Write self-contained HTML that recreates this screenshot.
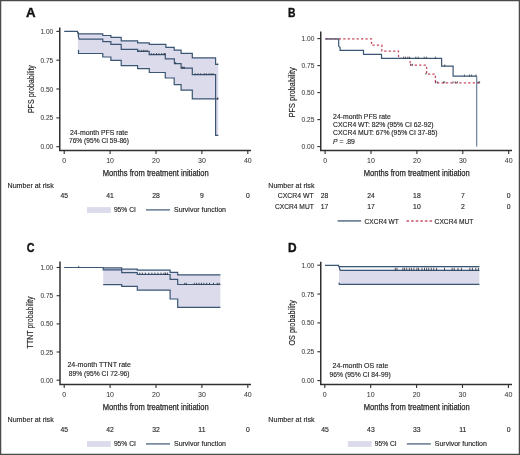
<!DOCTYPE html><html><head><meta charset="utf-8"><style>html,body{margin:0;padding:0;background:#fff;}svg{display:block;will-change:transform;filter:blur(0.3px);}</style></head><body>
<svg width="520" height="455" viewBox="0 0 520 455" font-family='"Liberation Sans", sans-serif'>
<rect x="0" y="0" width="520" height="455" fill="#fff"/>
<rect x="0.6" y="0.6" width="518.8" height="453.8" fill="none" stroke="#4a4a4a" stroke-width="1.3"/>
<text x="26.1" y="17.4" font-size="12.2" font-weight="bold" fill="#111" stroke="#111" stroke-width="0.35" textLength="9.6" lengthAdjust="spacingAndGlyphs">A</text>
<text x="288.0" y="17.4" font-size="12.2" font-weight="bold" fill="#111" stroke="#111" stroke-width="0.35" textLength="7.5" lengthAdjust="spacingAndGlyphs">B</text>
<text x="26.7" y="251.6" font-size="12.4" font-weight="bold" fill="#111" stroke="#111" stroke-width="0.35" textLength="7.8" lengthAdjust="spacingAndGlyphs">C</text>
<text x="288.0" y="251.6" font-size="12.2" font-weight="bold" fill="#111" stroke="#111" stroke-width="0.35" textLength="8.6" lengthAdjust="spacingAndGlyphs">D</text>
<path d="M59.75,27.6 V151.35 M59.0,150.6 H251" stroke="#303030" stroke-width="1.5" fill="none"/>
<path d="M56.35,31.4 H59.75" stroke="#303030" stroke-width="1.1"/>
<path d="M56.35,60.2 H59.75" stroke="#303030" stroke-width="1.1"/>
<path d="M56.35,89.0 H59.75" stroke="#303030" stroke-width="1.1"/>
<path d="M56.35,117.9 H59.75" stroke="#303030" stroke-width="1.1"/>
<path d="M56.35,146.7 H59.75" stroke="#303030" stroke-width="1.1"/>
<path d="M64.20,150.6 V154.0" stroke="#303030" stroke-width="1.1"/>
<path d="M110.10,150.6 V154.0" stroke="#303030" stroke-width="1.1"/>
<path d="M156.00,150.6 V154.0" stroke="#303030" stroke-width="1.1"/>
<path d="M201.90,150.6 V154.0" stroke="#303030" stroke-width="1.1"/>
<path d="M247.80,150.6 V154.0" stroke="#303030" stroke-width="1.1"/>
<text x="53.3" y="33.9" font-size="7.0" text-anchor="end" fill="#3a3a3a" font-weight="normal" stroke="#3a3a3a" stroke-width="0.05" textLength="12.9" lengthAdjust="spacingAndGlyphs">1.00</text>
<text x="53.3" y="62.7" font-size="7.0" text-anchor="end" fill="#3a3a3a" font-weight="normal" stroke="#3a3a3a" stroke-width="0.05" textLength="12.9" lengthAdjust="spacingAndGlyphs">0.75</text>
<text x="53.3" y="91.5" font-size="7.0" text-anchor="end" fill="#3a3a3a" font-weight="normal" stroke="#3a3a3a" stroke-width="0.05" textLength="12.9" lengthAdjust="spacingAndGlyphs">0.50</text>
<text x="53.3" y="120.4" font-size="7.0" text-anchor="end" fill="#3a3a3a" font-weight="normal" stroke="#3a3a3a" stroke-width="0.05" textLength="12.9" lengthAdjust="spacingAndGlyphs">0.25</text>
<text x="53.3" y="149.2" font-size="7.0" text-anchor="end" fill="#3a3a3a" font-weight="normal" stroke="#3a3a3a" stroke-width="0.05" textLength="12.9" lengthAdjust="spacingAndGlyphs">0.00</text>
<text x="64.20" y="163.3" font-size="7.0" text-anchor="middle" fill="#3a3a3a" font-weight="normal" stroke="#3a3a3a" stroke-width="0.05">0</text>
<text x="110.10" y="163.3" font-size="7.0" text-anchor="middle" fill="#3a3a3a" font-weight="normal" stroke="#3a3a3a" stroke-width="0.05">10</text>
<text x="156.00" y="163.3" font-size="7.0" text-anchor="middle" fill="#3a3a3a" font-weight="normal" stroke="#3a3a3a" stroke-width="0.05">20</text>
<text x="201.90" y="163.3" font-size="7.0" text-anchor="middle" fill="#3a3a3a" font-weight="normal" stroke="#3a3a3a" stroke-width="0.05">30</text>
<text x="247.80" y="163.3" font-size="7.0" text-anchor="middle" fill="#3a3a3a" font-weight="normal" stroke="#3a3a3a" stroke-width="0.05">40</text>
<text x="102.8" y="175.7" font-size="9" text-anchor="start" fill="#262626" font-weight="normal" stroke="#262626" stroke-width="0.25" textLength="106" lengthAdjust="spacingAndGlyphs">Months from treatment initiation</text>
<text transform="translate(33.6,89.1) rotate(-90)" font-size="9" text-anchor="middle" fill="#262626" stroke="#262626" stroke-width="0.15" textLength="48" lengthAdjust="spacingAndGlyphs">PFS probability</text>
<text x="99" y="134.5" font-size="6.8" text-anchor="middle" fill="#262626" font-weight="normal" stroke="#262626" stroke-width="0.14" textLength="58" lengthAdjust="spacingAndGlyphs">24-month PFS rate</text>
<text x="99" y="142.6" font-size="6.8" text-anchor="middle" fill="#262626" font-weight="normal" stroke="#262626" stroke-width="0.14" textLength="60" lengthAdjust="spacingAndGlyphs">76% (95% CI 59-86)</text>
<path d="M77.9,33.9 H102.8 V35.5 H110.9 V37.4 H121.2 V40.8 H137.6 V42.8 H149.3 V44.4 H165.9 V47.4 H174.2 V50.1 H181.1 V53.3 H192.3 V57.8 H215.6 V64.4 H218.3 V135.4 H215.6 V98.9 H192.3 V90.2 H181.1 V84.6 H174.2 V78.0 H165.3 V72.5 H149.3 V68.7 H137.6 V65.7 H121.2 V60.3 H110.9 V57.0 H102.8 V53.5 H77.9 Z" fill="#dcdbeb"/>
<path d="M77.4,31.6 L78.8,33.9  H102.8 V35.5 H110.9 V37.4 H121.2 V40.8 H137.6 V42.8 H149.3 V44.4 H165.9 V47.4 H174.2 V50.1 H181.1 V53.3 H192.3 V57.8 H215.6 V64.4 H218.3" stroke="#3a5674" stroke-width="1.2" fill="none"/>
<path d="M78.5,50 V53.5  H102.8 V57.0 H110.9 V60.3 H121.2 V65.7 H137.6 V68.7 H149.3 V72.5 H165.3 V78.0 H174.2 V84.6 H181.1 V90.2 H192.3 V98.9 H215.6 V135.4 H218.3" stroke="#3a5674" stroke-width="1.2" fill="none"/>
<path d="M64.2,31.4 H77.4 L78.4,34.5 V36.5 L79.2,39.2  H102.8 V41.7 H110.9 V44.3 H121.2 V49.3 H137.6 V51.4 H149.2 V54.6 H165.3 V58.9 H174.4 V63.7 H181.1 V68.2 H192.3 V74.7 H215.6 V99.0 H218.3" stroke="#3a5674" stroke-width="1.2" fill="none"/>
<path d="M139,51.8 V49.8 M141.4,51.8 V49.8 M143.4,51.8 V49.8 M145.1,51.8 V49.8 M147.1,51.8 V49.8" stroke="#2a3440" stroke-width="0.75" fill="none"/>
<path d="M151.2,55.0 V53.0 M153.8,55.0 V53.0 M156.5,55.0 V53.0 M158.9,55.0 V53.0 M161.6,55.0 V53.0 M163.9,55.0 V53.0" stroke="#2a3440" stroke-width="0.75" fill="none"/>
<path d="M164.9,55.0 V53.2" stroke="#2a3440" stroke-width="1.6" fill="none"/>
<path d="M175.6,64.10000000000001 V62.1" stroke="#2a3440" stroke-width="0.75" fill="none"/>
<path d="M182.2,68.60000000000001 V66.8 M184.0,68.60000000000001 V66.8" stroke="#2a3440" stroke-width="1.4" fill="none"/>
<path d="M195.2,75.10000000000001 V73.10000000000001 M198.0,75.10000000000001 V73.10000000000001 M200.8,75.10000000000001 V73.10000000000001 M204.2,75.10000000000001 V73.10000000000001 M206.3,75.10000000000001 V73.10000000000001 M209.1,75.10000000000001 V73.10000000000001 M211.2,75.10000000000001 V73.10000000000001 M213.1,75.10000000000001 V73.10000000000001" stroke="#2a3440" stroke-width="0.75" fill="none"/>
<path d="M217.6,99.4 V97.5" stroke="#2a3440" stroke-width="1.2" fill="none"/>
<path d="M217.6,64.60000000000001 V63.6" stroke="#2a3440" stroke-width="1.0" fill="none"/>
<path d="M320.75,31.4 V151.35 M320.0,150.6 H512" stroke="#303030" stroke-width="1.5" fill="none"/>
<path d="M317.35,38.6 H320.75" stroke="#303030" stroke-width="1.1"/>
<path d="M317.35,65.6 H320.75" stroke="#303030" stroke-width="1.1"/>
<path d="M317.35,92.6 H320.75" stroke="#303030" stroke-width="1.1"/>
<path d="M317.35,119.6 H320.75" stroke="#303030" stroke-width="1.1"/>
<path d="M317.35,146.6 H320.75" stroke="#303030" stroke-width="1.1"/>
<path d="M325.10,150.6 V154.0" stroke="#303030" stroke-width="1.1"/>
<path d="M371.00,150.6 V154.0" stroke="#303030" stroke-width="1.1"/>
<path d="M416.90,150.6 V154.0" stroke="#303030" stroke-width="1.1"/>
<path d="M462.80,150.6 V154.0" stroke="#303030" stroke-width="1.1"/>
<path d="M508.70,150.6 V154.0" stroke="#303030" stroke-width="1.1"/>
<text x="314.5" y="41.1" font-size="7.0" text-anchor="end" fill="#3a3a3a" font-weight="normal" stroke="#3a3a3a" stroke-width="0.05" textLength="12.9" lengthAdjust="spacingAndGlyphs">1.00</text>
<text x="314.5" y="68.1" font-size="7.0" text-anchor="end" fill="#3a3a3a" font-weight="normal" stroke="#3a3a3a" stroke-width="0.05" textLength="12.9" lengthAdjust="spacingAndGlyphs">0.75</text>
<text x="314.5" y="95.1" font-size="7.0" text-anchor="end" fill="#3a3a3a" font-weight="normal" stroke="#3a3a3a" stroke-width="0.05" textLength="12.9" lengthAdjust="spacingAndGlyphs">0.50</text>
<text x="314.5" y="122.1" font-size="7.0" text-anchor="end" fill="#3a3a3a" font-weight="normal" stroke="#3a3a3a" stroke-width="0.05" textLength="12.9" lengthAdjust="spacingAndGlyphs">0.25</text>
<text x="314.5" y="149.1" font-size="7.0" text-anchor="end" fill="#3a3a3a" font-weight="normal" stroke="#3a3a3a" stroke-width="0.05" textLength="12.9" lengthAdjust="spacingAndGlyphs">0.00</text>
<text x="325.10" y="163.3" font-size="7.0" text-anchor="middle" fill="#3a3a3a" font-weight="normal" stroke="#3a3a3a" stroke-width="0.05">0</text>
<text x="371.00" y="163.3" font-size="7.0" text-anchor="middle" fill="#3a3a3a" font-weight="normal" stroke="#3a3a3a" stroke-width="0.05">10</text>
<text x="416.90" y="163.3" font-size="7.0" text-anchor="middle" fill="#3a3a3a" font-weight="normal" stroke="#3a3a3a" stroke-width="0.05">20</text>
<text x="462.80" y="163.3" font-size="7.0" text-anchor="middle" fill="#3a3a3a" font-weight="normal" stroke="#3a3a3a" stroke-width="0.05">30</text>
<text x="508.70" y="163.3" font-size="7.0" text-anchor="middle" fill="#3a3a3a" font-weight="normal" stroke="#3a3a3a" stroke-width="0.05">40</text>
<text x="363.8" y="176.0" font-size="9" text-anchor="start" fill="#262626" font-weight="normal" stroke="#262626" stroke-width="0.25" textLength="106" lengthAdjust="spacingAndGlyphs">Months from treatment initiation</text>
<text transform="translate(294.8,92.3) rotate(-90)" font-size="9" text-anchor="middle" fill="#262626" stroke="#262626" stroke-width="0.15" textLength="50" lengthAdjust="spacingAndGlyphs">PFS probability</text>
<text x="333.1" y="119.0" font-size="6.8" text-anchor="start" fill="#262626" font-weight="normal" stroke="#262626" stroke-width="0.14" textLength="57.7" lengthAdjust="spacingAndGlyphs">24-month PFS rate</text>
<text x="333.1" y="127.4" font-size="6.8" text-anchor="start" fill="#262626" font-weight="normal" stroke="#262626" stroke-width="0.14" textLength="100.4" lengthAdjust="spacingAndGlyphs">CXCR4 WT: 82% (95% CI 62-92)</text>
<text x="333.1" y="135.4" font-size="6.8" text-anchor="start" fill="#262626" font-weight="normal" stroke="#262626" stroke-width="0.14" textLength="104.4" lengthAdjust="spacingAndGlyphs">CXCR4 MUT: 67% (95% CI 37-85)</text>
<text x="333.1" y="143.7" font-size="6.8" fill="#262626" stroke="#262626" stroke-width="0.14"><tspan font-style="italic">P</tspan> = .89</text>
<path d="M325.4,38.8 H371.5 V45.2 H381.9 V51.2 H398.5 V58.4 H410.1 V65.2 H426.6 V74.2 H435.4 V82.9 H479.7" stroke="#c8485c" stroke-width="1.25" fill="none" stroke-dasharray="2.3,2.15"/>
<path d="M325.4,38.9 H338.7 V46.1 L340.1,47.5  H340.1 V50.4 H363.5 V54.4 H381.5 V58.4 H441.6 V66.1 H453.1 V76.2 H476.7" stroke="#3a5674" stroke-width="1.2" fill="none"/>
<path d="M325.4,38.9 H338.7" stroke="#84707e" stroke-width="1.3" fill="none"/>
<path d="M476.7,76.1 V146.6" stroke="#5d7596" stroke-width="1.1" fill="none"/>
<path d="M403.6,58.6 V56.6 M405.6,58.6 V56.6 M407.8,58.6 V56.6 M409.5,58.6 V56.6 M415.8,58.6 V56.6 M418.2,58.6 V56.6 M424.2,58.6 V56.6 M426.4,58.6 V56.6 M435.4,58.6 V56.6" stroke="#2a3440" stroke-width="0.75" fill="none"/>
<path d="M444.8,66.5 V64.5" stroke="#2a3440" stroke-width="0.75" fill="none"/>
<path d="M464.4,76.5 V74.5 M469.4,76.5 V74.5 M471.6,76.5 V74.5 M476.0,76.5 V74.5" stroke="#2a3440" stroke-width="0.75" fill="none"/>
<path d="M410.6,65.60000000000001 V63.800000000000004 M412.6,65.60000000000001 V63.800000000000004" stroke="#2a3440" stroke-width="0.75" fill="none"/>
<path d="M425.8,74.60000000000001 V72.8" stroke="#2a3440" stroke-width="0.75" fill="none"/>
<path d="M435.6,83.30000000000001 V81.30000000000001 M437.2,83.30000000000001 V81.30000000000001 M443.4,83.30000000000001 V81.30000000000001 M444.8,83.30000000000001 V81.30000000000001 M453.0,83.30000000000001 V81.30000000000001 M455.2,83.30000000000001 V81.30000000000001 M457.4,83.30000000000001 V81.30000000000001 M478.2,83.30000000000001 V81.30000000000001 M479.6,83.30000000000001 V81.30000000000001" stroke="#2a3440" stroke-width="0.75" fill="none"/>
<path d="M60,261.6 V385.35 M59.25,384.6 H251" stroke="#303030" stroke-width="1.5" fill="none"/>
<path d="M56.6,267.5 H60" stroke="#303030" stroke-width="1.1"/>
<path d="M56.6,295.7 H60" stroke="#303030" stroke-width="1.1"/>
<path d="M56.6,323.9 H60" stroke="#303030" stroke-width="1.1"/>
<path d="M56.6,352.0 H60" stroke="#303030" stroke-width="1.1"/>
<path d="M56.6,380.2 H60" stroke="#303030" stroke-width="1.1"/>
<path d="M64.20,384.6 V388.0" stroke="#303030" stroke-width="1.1"/>
<path d="M110.10,384.6 V388.0" stroke="#303030" stroke-width="1.1"/>
<path d="M156.00,384.6 V388.0" stroke="#303030" stroke-width="1.1"/>
<path d="M201.90,384.6 V388.0" stroke="#303030" stroke-width="1.1"/>
<path d="M247.80,384.6 V388.0" stroke="#303030" stroke-width="1.1"/>
<text x="53.3" y="270.0" font-size="7.0" text-anchor="end" fill="#3a3a3a" font-weight="normal" stroke="#3a3a3a" stroke-width="0.05" textLength="12.9" lengthAdjust="spacingAndGlyphs">1.00</text>
<text x="53.3" y="298.2" font-size="7.0" text-anchor="end" fill="#3a3a3a" font-weight="normal" stroke="#3a3a3a" stroke-width="0.05" textLength="12.9" lengthAdjust="spacingAndGlyphs">0.75</text>
<text x="53.3" y="326.4" font-size="7.0" text-anchor="end" fill="#3a3a3a" font-weight="normal" stroke="#3a3a3a" stroke-width="0.05" textLength="12.9" lengthAdjust="spacingAndGlyphs">0.50</text>
<text x="53.3" y="354.5" font-size="7.0" text-anchor="end" fill="#3a3a3a" font-weight="normal" stroke="#3a3a3a" stroke-width="0.05" textLength="12.9" lengthAdjust="spacingAndGlyphs">0.25</text>
<text x="53.3" y="382.7" font-size="7.0" text-anchor="end" fill="#3a3a3a" font-weight="normal" stroke="#3a3a3a" stroke-width="0.05" textLength="12.9" lengthAdjust="spacingAndGlyphs">0.00</text>
<text x="64.20" y="397.0" font-size="7.0" text-anchor="middle" fill="#3a3a3a" font-weight="normal" stroke="#3a3a3a" stroke-width="0.05">0</text>
<text x="110.10" y="397.0" font-size="7.0" text-anchor="middle" fill="#3a3a3a" font-weight="normal" stroke="#3a3a3a" stroke-width="0.05">10</text>
<text x="156.00" y="397.0" font-size="7.0" text-anchor="middle" fill="#3a3a3a" font-weight="normal" stroke="#3a3a3a" stroke-width="0.05">20</text>
<text x="201.90" y="397.0" font-size="7.0" text-anchor="middle" fill="#3a3a3a" font-weight="normal" stroke="#3a3a3a" stroke-width="0.05">30</text>
<text x="247.80" y="397.0" font-size="7.0" text-anchor="middle" fill="#3a3a3a" font-weight="normal" stroke="#3a3a3a" stroke-width="0.05">40</text>
<text x="102.8" y="409.6" font-size="9" text-anchor="start" fill="#262626" font-weight="normal" stroke="#262626" stroke-width="0.25" textLength="106" lengthAdjust="spacingAndGlyphs">Months from treatment initiation</text>
<text transform="translate(33.2,322.4) rotate(-90)" font-size="9" text-anchor="middle" fill="#262626" stroke="#262626" stroke-width="0.15" textLength="52" lengthAdjust="spacingAndGlyphs">TTNT probability</text>
<text x="99.2" y="367.4" font-size="6.8" text-anchor="middle" fill="#262626" font-weight="normal" stroke="#262626" stroke-width="0.14" textLength="63.5" lengthAdjust="spacingAndGlyphs">24-month TTNT rate</text>
<text x="99.2" y="376.1" font-size="6.8" text-anchor="middle" fill="#262626" font-weight="normal" stroke="#262626" stroke-width="0.14" textLength="60.8" lengthAdjust="spacingAndGlyphs">89% (95% CI 72-96)</text>
<path d="M103.2,267.9 H121.7 V269.1 H137.3 V270.2 H170.1 V272.4 H177.7 V274.8 H220.4 V307.4 H177.7 V299.0 H170.1 V290.1 H137.3 V286.4 H121.7 V284.7 H103.2 Z" fill="#dcdbeb"/>
<path d="M121.7,269.6 H170.1 V272.9 H137.3 V270.6 Z" fill="#eef0f8"/>
<path d="M103.2,267.9 H121.7 V269.1 H137.3 V270.2 H170.1 V272.4 H177.7 V274.8 H220.4" stroke="#3a5674" stroke-width="1.2" fill="none"/>
<path d="M103.2,284.7 H121.7 V286.4 H137.3 V290.1 H170.1 V299.0 H177.7 V307.4 H220.4" stroke="#3a5674" stroke-width="1.2" fill="none"/>
<path d="M64.2,267.5 H103.2 V269.8 H121.7 V272.6 H137.3 V274.5 H170.1 V279.3 H177.7 V284.5 H220.4" stroke="#3a5674" stroke-width="1.2" fill="none"/>
<path d="M78.7,267.9 V265.9" stroke="#2a3440" stroke-width="0.75" fill="none"/>
<path d="M139.8,274.9 V272.6 M142.4,274.9 V272.6 M145.4,274.9 V272.6 M148.8,274.9 V272.6 M151.9,274.9 V272.6 M154.9,274.9 V272.6 M157.9,274.9 V272.6 M161.0,274.9 V272.6 M164.0,274.9 V272.6 M165.6,274.9 V272.6 M167.4,274.9 V272.6" stroke="#2a3440" stroke-width="0.9" fill="none"/>
<path d="M184.8,284.9 V282.8 M186.2,284.9 V282.8 M194.2,284.9 V282.8 M196.6,284.9 V282.8 M199.0,284.9 V282.8 M201.4,284.9 V282.8 M203.8,284.9 V282.8 M206.7,284.9 V282.8 M209.6,284.9 V282.8 M213.5,284.9 V282.8 M217.3,284.9 V282.8 M219.2,284.9 V282.8" stroke="#2a3440" stroke-width="0.9" fill="none"/>
<path d="M320.75,261.7 V385.35 M320.0,384.6 H512" stroke="#303030" stroke-width="1.5" fill="none"/>
<path d="M317.35,265.2 H320.75" stroke="#303030" stroke-width="1.1"/>
<path d="M317.35,294.05 H320.75" stroke="#303030" stroke-width="1.1"/>
<path d="M317.35,322.9 H320.75" stroke="#303030" stroke-width="1.1"/>
<path d="M317.35,351.75 H320.75" stroke="#303030" stroke-width="1.1"/>
<path d="M317.35,380.6 H320.75" stroke="#303030" stroke-width="1.1"/>
<path d="M324.80,384.6 V388.0" stroke="#303030" stroke-width="1.1"/>
<path d="M370.70,384.6 V388.0" stroke="#303030" stroke-width="1.1"/>
<path d="M416.60,384.6 V388.0" stroke="#303030" stroke-width="1.1"/>
<path d="M462.50,384.6 V388.0" stroke="#303030" stroke-width="1.1"/>
<path d="M508.40,384.6 V388.0" stroke="#303030" stroke-width="1.1"/>
<text x="314.3" y="267.7" font-size="7.0" text-anchor="end" fill="#3a3a3a" font-weight="normal" stroke="#3a3a3a" stroke-width="0.05" textLength="12.9" lengthAdjust="spacingAndGlyphs">1.00</text>
<text x="314.3" y="296.55" font-size="7.0" text-anchor="end" fill="#3a3a3a" font-weight="normal" stroke="#3a3a3a" stroke-width="0.05" textLength="12.9" lengthAdjust="spacingAndGlyphs">0.75</text>
<text x="314.3" y="325.4" font-size="7.0" text-anchor="end" fill="#3a3a3a" font-weight="normal" stroke="#3a3a3a" stroke-width="0.05" textLength="12.9" lengthAdjust="spacingAndGlyphs">0.50</text>
<text x="314.3" y="354.25" font-size="7.0" text-anchor="end" fill="#3a3a3a" font-weight="normal" stroke="#3a3a3a" stroke-width="0.05" textLength="12.9" lengthAdjust="spacingAndGlyphs">0.25</text>
<text x="314.3" y="383.1" font-size="7.0" text-anchor="end" fill="#3a3a3a" font-weight="normal" stroke="#3a3a3a" stroke-width="0.05" textLength="12.9" lengthAdjust="spacingAndGlyphs">0.00</text>
<text x="324.80" y="397.2" font-size="7.0" text-anchor="middle" fill="#3a3a3a" font-weight="normal" stroke="#3a3a3a" stroke-width="0.05">0</text>
<text x="370.70" y="397.2" font-size="7.0" text-anchor="middle" fill="#3a3a3a" font-weight="normal" stroke="#3a3a3a" stroke-width="0.05">10</text>
<text x="416.60" y="397.2" font-size="7.0" text-anchor="middle" fill="#3a3a3a" font-weight="normal" stroke="#3a3a3a" stroke-width="0.05">20</text>
<text x="462.50" y="397.2" font-size="7.0" text-anchor="middle" fill="#3a3a3a" font-weight="normal" stroke="#3a3a3a" stroke-width="0.05">30</text>
<text x="508.40" y="397.2" font-size="7.0" text-anchor="middle" fill="#3a3a3a" font-weight="normal" stroke="#3a3a3a" stroke-width="0.05">40</text>
<text x="363.8" y="409.9" font-size="9" text-anchor="start" fill="#262626" font-weight="normal" stroke="#262626" stroke-width="0.25" textLength="106" lengthAdjust="spacingAndGlyphs">Months from treatment initiation</text>
<text transform="translate(294.8,322.8) rotate(-90)" font-size="9" text-anchor="middle" fill="#262626" stroke="#262626" stroke-width="0.15" textLength="45.6" lengthAdjust="spacingAndGlyphs">OS probability</text>
<text x="360.4" y="368.4" font-size="6.8" text-anchor="middle" fill="#262626" font-weight="normal" stroke="#262626" stroke-width="0.14" textLength="55.8" lengthAdjust="spacingAndGlyphs">24-month OS rate</text>
<text x="360.2" y="377.0" font-size="6.8" text-anchor="middle" fill="#262626" font-weight="normal" stroke="#262626" stroke-width="0.14" textLength="61.2" lengthAdjust="spacingAndGlyphs">96% (95% CI 84-99)</text>
<path d="M339,266.8 H479.4 V284.3 H340.4 V282.5 H339 Z" fill="#dcdbeb"/>
<path d="M340.4,267.2 H479.4 V269.8 H340.4 Z" fill="#fafbfe"/>
<path d="M338.6,266.6 H479.4" stroke="#3a5674" stroke-width="1.2" fill="none"/>
<path d="M339.2,282.5 V284.3 H479.4" stroke="#3a5674" stroke-width="1.2" fill="none"/>
<path d="M325,265.4 H338.5 L339.6,268.2 V269.2 L340.4,270.3 H479.4" stroke="#3a5674" stroke-width="1.2" fill="none"/>
<path d="M395.3,270.7 V267.7 M397.0,270.7 V267.7 M402.9,270.7 V267.7 M404.6,270.7 V267.7 M406.7,270.7 V267.7 M409.3,270.7 V267.7 M411.4,270.7 V267.7 M413.9,270.7 V267.7 M416.9,270.7 V267.7 M418.6,270.7 V267.7 M422.0,270.7 V267.7 M424.5,270.7 V267.7 M426.6,270.7 V267.7 M428.7,270.7 V267.7 M431.3,270.7 V267.7 M433.8,270.7 V267.7 M436.6,270.7 V267.7 M444.5,270.7 V267.7 M452.1,270.7 V267.7 M454.2,270.7 V267.7 M458.0,270.7 V267.7 M461.4,270.7 V267.7 M469.9,270.7 V267.7 M472.4,270.7 V267.7 M475.8,270.7 V267.7 M478.4,270.7 V267.7" stroke="#2a3440" stroke-width="0.85" fill="none"/>
<text x="7.5" y="187.5" font-size="7.0" text-anchor="start" fill="#262626" font-weight="normal" stroke="#262626" stroke-width="0.14" textLength="46.2" lengthAdjust="spacingAndGlyphs">Number at risk</text>
<text x="64.20" y="198.2" font-size="6.8" text-anchor="middle" fill="#262626" font-weight="normal" stroke="#262626" stroke-width="0.14">45</text>
<text x="110.10" y="198.2" font-size="6.8" text-anchor="middle" fill="#262626" font-weight="normal" stroke="#262626" stroke-width="0.14">41</text>
<text x="156.00" y="198.2" font-size="6.8" text-anchor="middle" fill="#262626" font-weight="normal" stroke="#262626" stroke-width="0.14">28</text>
<text x="201.90" y="198.2" font-size="6.8" text-anchor="middle" fill="#262626" font-weight="normal" stroke="#262626" stroke-width="0.14">9</text>
<text x="247.80" y="198.2" font-size="6.8" text-anchor="middle" fill="#262626" font-weight="normal" stroke="#262626" stroke-width="0.14">0</text>
<rect x="87" y="207.1" width="23.8" height="5.8" fill="#dcdbeb"/>
<text x="113.9" y="211.9" font-size="6.8" text-anchor="start" fill="#262626" font-weight="normal" stroke="#262626" stroke-width="0.14" textLength="22" lengthAdjust="spacingAndGlyphs">95% CI</text>
<path d="M146,209.9 H170" stroke="#62788e" stroke-width="1.5"/>
<text x="174" y="211.9" font-size="6.8" text-anchor="start" fill="#262626" font-weight="normal" stroke="#262626" stroke-width="0.14" textLength="52" lengthAdjust="spacingAndGlyphs">Survivor function</text>
<text x="7.5" y="421.5" font-size="7.0" text-anchor="start" fill="#262626" font-weight="normal" stroke="#262626" stroke-width="0.14" textLength="46.2" lengthAdjust="spacingAndGlyphs">Number at risk</text>
<text x="64.20" y="432.2" font-size="6.8" text-anchor="middle" fill="#262626" font-weight="normal" stroke="#262626" stroke-width="0.14">45</text>
<text x="110.10" y="432.2" font-size="6.8" text-anchor="middle" fill="#262626" font-weight="normal" stroke="#262626" stroke-width="0.14">42</text>
<text x="156.00" y="432.2" font-size="6.8" text-anchor="middle" fill="#262626" font-weight="normal" stroke="#262626" stroke-width="0.14">32</text>
<text x="201.90" y="432.2" font-size="6.8" text-anchor="middle" fill="#262626" font-weight="normal" stroke="#262626" stroke-width="0.14">11</text>
<text x="247.80" y="432.2" font-size="6.8" text-anchor="middle" fill="#262626" font-weight="normal" stroke="#262626" stroke-width="0.14">0</text>
<rect x="87" y="441.1" width="23.8" height="5.8" fill="#dcdbeb"/>
<text x="113.9" y="445.9" font-size="6.8" text-anchor="start" fill="#262626" font-weight="normal" stroke="#262626" stroke-width="0.14" textLength="22" lengthAdjust="spacingAndGlyphs">95% CI</text>
<path d="M146,443.9 H170" stroke="#62788e" stroke-width="1.5"/>
<text x="174" y="445.9" font-size="6.8" text-anchor="start" fill="#262626" font-weight="normal" stroke="#262626" stroke-width="0.14" textLength="52" lengthAdjust="spacingAndGlyphs">Survivor function</text>
<text x="268.3" y="421.5" font-size="7.0" text-anchor="start" fill="#262626" font-weight="normal" stroke="#262626" stroke-width="0.14" textLength="46.2" lengthAdjust="spacingAndGlyphs">Number at risk</text>
<text x="325.00" y="432.2" font-size="6.8" text-anchor="middle" fill="#262626" font-weight="normal" stroke="#262626" stroke-width="0.14">45</text>
<text x="370.90" y="432.2" font-size="6.8" text-anchor="middle" fill="#262626" font-weight="normal" stroke="#262626" stroke-width="0.14">43</text>
<text x="416.80" y="432.2" font-size="6.8" text-anchor="middle" fill="#262626" font-weight="normal" stroke="#262626" stroke-width="0.14">33</text>
<text x="462.70" y="432.2" font-size="6.8" text-anchor="middle" fill="#262626" font-weight="normal" stroke="#262626" stroke-width="0.14">11</text>
<text x="508.60" y="432.2" font-size="6.8" text-anchor="middle" fill="#262626" font-weight="normal" stroke="#262626" stroke-width="0.14">0</text>
<rect x="347.8" y="441.1" width="23.8" height="5.8" fill="#dcdbeb"/>
<text x="374.70000000000005" y="445.9" font-size="6.8" text-anchor="start" fill="#262626" font-weight="normal" stroke="#262626" stroke-width="0.14" textLength="22" lengthAdjust="spacingAndGlyphs">95% CI</text>
<path d="M406.8,443.9 H430.8" stroke="#62788e" stroke-width="1.5"/>
<text x="434.8" y="445.9" font-size="6.8" text-anchor="start" fill="#262626" font-weight="normal" stroke="#262626" stroke-width="0.14" textLength="52" lengthAdjust="spacingAndGlyphs">Survivor function</text>
<text x="268.25" y="187.5" font-size="7.0" text-anchor="start" fill="#262626" font-weight="normal" stroke="#262626" stroke-width="0.14" textLength="46.2" lengthAdjust="spacingAndGlyphs">Number at risk</text>
<text x="313.75" y="198.2" font-size="6.8" text-anchor="end" fill="#262626" font-weight="normal" stroke="#262626" stroke-width="0.14" textLength="36" lengthAdjust="spacingAndGlyphs">CXCR4 WT</text>
<text x="313.75" y="209.2" font-size="6.8" text-anchor="end" fill="#262626" font-weight="normal" stroke="#262626" stroke-width="0.14" textLength="38.75" lengthAdjust="spacingAndGlyphs">CXCR4 MUT</text>
<text x="324.50" y="198.2" font-size="6.8" text-anchor="middle" fill="#262626" font-weight="normal" stroke="#262626" stroke-width="0.14">28</text>
<text x="324.50" y="209.2" font-size="6.8" text-anchor="middle" fill="#262626" font-weight="normal" stroke="#262626" stroke-width="0.14">17</text>
<text x="371.00" y="198.2" font-size="6.8" text-anchor="middle" fill="#262626" font-weight="normal" stroke="#262626" stroke-width="0.14">24</text>
<text x="371.00" y="209.2" font-size="6.8" text-anchor="middle" fill="#262626" font-weight="normal" stroke="#262626" stroke-width="0.14">17</text>
<text x="416.90" y="198.2" font-size="6.8" text-anchor="middle" fill="#262626" font-weight="normal" stroke="#262626" stroke-width="0.14">18</text>
<text x="416.90" y="209.2" font-size="6.8" text-anchor="middle" fill="#262626" font-weight="normal" stroke="#262626" stroke-width="0.14">10</text>
<text x="462.80" y="198.2" font-size="6.8" text-anchor="middle" fill="#262626" font-weight="normal" stroke="#262626" stroke-width="0.14">7</text>
<text x="462.80" y="209.2" font-size="6.8" text-anchor="middle" fill="#262626" font-weight="normal" stroke="#262626" stroke-width="0.14">2</text>
<text x="508.70" y="198.2" font-size="6.8" text-anchor="middle" fill="#262626" font-weight="normal" stroke="#262626" stroke-width="0.14">0</text>
<text x="508.70" y="209.2" font-size="6.8" text-anchor="middle" fill="#262626" font-weight="normal" stroke="#262626" stroke-width="0.14">0</text>
<path d="M337.6,220.9 H361.2" stroke="#62788e" stroke-width="1.6"/>
<text x="364.6" y="223.7" font-size="6.8" text-anchor="start" fill="#262626" font-weight="normal" stroke="#262626" stroke-width="0.14" textLength="34.2" lengthAdjust="spacingAndGlyphs">CXCR4 WT</text>
<path d="M406.5,220.9 H432" stroke="#cc5468" stroke-width="1.5" stroke-dasharray="2.6,2.0"/>
<text x="434.6" y="223.7" font-size="6.8" text-anchor="start" fill="#262626" font-weight="normal" stroke="#262626" stroke-width="0.14" textLength="38.8" lengthAdjust="spacingAndGlyphs">CXCR4 MUT</text>
</svg></body></html>
